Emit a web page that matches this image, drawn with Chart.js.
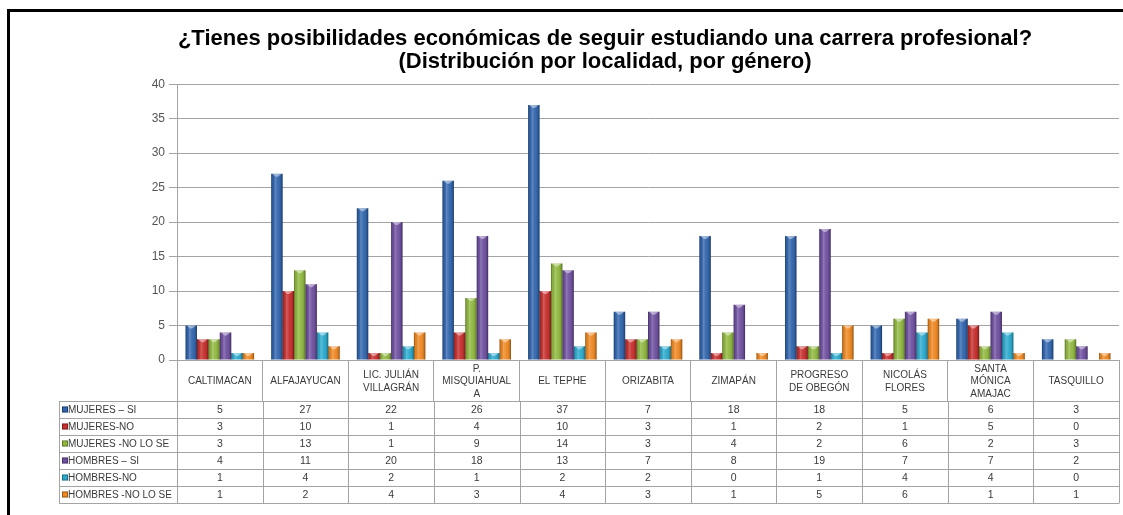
<!DOCTYPE html>
<html lang="es">
<head>
<meta charset="utf-8">
<title>Posibilidades económicas por localidad</title>
<script src="https://cdn.jsdelivr.net/npm/chart.js@4"></script>
<style>
  html, body { margin: 0; padding: 0; background: #fff; }
  #chart { display: block; }
</style>
</head>
<body>
<canvas id="chart" width="1123" height="515"></canvas>
<script>
// localidades (one entry per column, split into the lines shown in the header)
const localidades = [
  ["CALTIMACAN"],
  ["ALFAJAYUCAN"],
  ["LIC. JULIÁN", "VILLAGRÁN"],
  ["P.", "MISQUIAHUAL", "A"],
  ["EL TEPHE"],
  ["ORIZABITA"],
  ["ZIMAPÁN"],
  ["PROGRESO", "DE OBEGÓN"],
  ["NICOLÁS", "FLORES"],
  ["SANTA", "MÓNICA", "AMAJAC"],
  ["TASQUILLO"],
];

const seriesNames = [
  "MUJERES – SI",
  "MUJERES-NO",
  "MUJERES -NO LO SE",
  "HOMBRES – SI",
  "HOMBRES-NO",
  "HOMBRES -NO LO SE",
];

const mujeresSi = [5, 27, 22, 26, 37, 7, 18, 18, 5, 6, 3];
const mujeresNo = [3, 10, 1, 4, 10, 3, 1, 2, 1, 5, 0];
const mujeresNoLoSe = [3, 13, 1, 9, 14, 3, 4, 2, 6, 2, 3];
const hombresSi = [4, 11, 20, 18, 13, 7, 8, 19, 7, 7, 2];
const hombresNo = [1, 4, 2, 1, 2, 2, 0, 1, 4, 4, 0];
const hombresNoLoSe = [1, 2, 4, 3, 4, 3, 1, 5, 6, 1, 1];

const yTicks = [0, 5, 10, 15, 20, 25, 30, 35, 40];

const seriesValues = [mujeresSi, mujeresNo, mujeresNoLoSe, hombresSi, hombresNo, hombresNoLoSe];
const seriesColors = ["#3165ad", "#c62f2d", "#90b840", "#6f50a0", "#2caacd", "#ee8822"];

const FONT = "'Liberation Sans', Arial, sans-serif";
const GRID = "#a4a4a4";
const HEADER_HEIGHT = 41;
const ROW_HEIGHT = 17;
const TABLE_LEFT = 59;

// black frame along the top and left edge
const frame = {
  id: "frame",
  afterDraw(chart) {
    const { ctx, width, height } = chart;
    ctx.save();
    ctx.fillStyle = "#000";
    ctx.fillRect(7, 9, width - 7, 3);
    ctx.fillRect(7, 9, 3, height - 9);
    ctx.restore();
  },
};

// cylinder-like shading on top of the flat bars
const barShading = {
  id: "barShading",
  afterDatasetsDraw(chart) {
    const { ctx } = chart;
    ctx.save();
    chart.data.datasets.forEach((ds, di) => {
      chart.getDatasetMeta(di).data.forEach((bar) => {
        const { x, y, base, width } = bar.getProps(["x", "y", "base", "width"], true);
        const h = base - y;
        if (h < 0.5) return;
        const left = x - width / 2;
        const g = ctx.createLinearGradient(left, 0, left + width, 0);
        g.addColorStop(0, "rgba(0,0,0,0.38)");
        g.addColorStop(0.14, "rgba(0,0,0,0.05)");
        g.addColorStop(0.35, "rgba(255,255,255,0.22)");
        g.addColorStop(0.6, "rgba(255,255,255,0.04)");
        g.addColorStop(0.86, "rgba(0,0,0,0.12)");
        g.addColorStop(1, "rgba(0,0,0,0.42)");
        ctx.fillStyle = g;
        ctx.fillRect(left, y, width, h);

        // light bevel on the top edge
        const cap = Math.min(3, h);
        ctx.fillStyle = "rgba(255,255,255,0.45)";
        ctx.beginPath();
        ctx.moveTo(left + 1, y);
        ctx.lineTo(left + width - 1, y);
        ctx.lineTo(x + 1, y + cap);
        ctx.lineTo(x - 1, y + cap);
        ctx.closePath();
        ctx.fill();
      });
    });
    ctx.restore();
  },
};

// data table under the axis: legend keys, series names and values
const dataTable = {
  id: "dataTable",
  afterDraw(chart) {
    const { ctx, chartArea } = chart;
    const x = chart.scales.x;
    const top = chartArea.bottom + HEADER_HEIGHT;
    const bottom = top + ROW_HEIGHT * seriesNames.length;
    const colW = x.width / localidades.length;

    ctx.save();
    ctx.strokeStyle = GRID;
    ctx.lineWidth = 1;
    ctx.beginPath();
    for (let r = 0; r <= seriesNames.length; r++) {
      const yy = Math.round(top + r * ROW_HEIGHT) + 0.5;
      ctx.moveTo(TABLE_LEFT, yy);
      ctx.lineTo(chartArea.right, yy);
    }
    ctx.moveTo(TABLE_LEFT + 0.5, top);
    ctx.lineTo(TABLE_LEFT + 0.5, bottom + 0.5);
    for (let c = 0; c <= localidades.length; c++) {
      const xx = Math.round(x.left + c * colW) + 0.5;
      ctx.moveTo(xx, top);
      ctx.lineTo(xx, bottom + 0.5);
    }
    ctx.stroke();

    ctx.textBaseline = "middle";
    seriesNames.forEach((name, r) => {
      const mid = top + r * ROW_HEIGHT + ROW_HEIGHT / 2 + 1;

      ctx.fillStyle = seriesColors[r];
      ctx.fillRect(TABLE_LEFT + 3, mid - 4, 6, 6);
      ctx.strokeStyle = "rgba(0,0,0,0.35)";
      ctx.strokeRect(TABLE_LEFT + 3.5, mid - 3.5, 5, 5);

      ctx.fillStyle = "#3a3a3a";
      ctx.textAlign = "left";
      ctx.font = `10px ${FONT}`;
      ctx.fillText(name, TABLE_LEFT + 9, mid);

      ctx.textAlign = "center";
      ctx.font = `10.5px ${FONT}`;
      seriesValues[r].forEach((v, i) => {
        ctx.fillText(String(v), x.getPixelForValue(i), mid);
      });
    });
    ctx.restore();
  },
};

new Chart(document.getElementById("chart"), {
  type: "bar",
  data: {
    labels: localidades,
    datasets: seriesNames.map((name, i) => ({
      label: name,
      data: seriesValues[i],
      backgroundColor: seriesColors[i],
      borderWidth: 0,
      barPercentage: 1,
      categoryPercentage: 0.8,
    })),
  },
  options: {
    responsive: false,
    animation: false,
    layout: {
      padding: { left: 91, right: 4, top: 0, bottom: 0 },
    },
    scales: {
      x: {
        grid: {
          drawOnChartArea: false,
          drawTicks: true,
          tickLength: HEADER_HEIGHT,
          color: GRID,
        },
        border: { color: GRID },
        ticks: {
          autoSkip: false,
          maxRotation: 0,
          crossAlign: "center",
          padding: -32,
          color: "#3a3a3a",
          font: { family: FONT, size: 10, lineHeight: 1.25 },
        },
        afterFit(scale) {
          scale.height = 155;
        },
      },
      y: {
        min: 0,
        max: 40,
        afterBuildTicks(scale) {
          scale.ticks = yTicks.map((v) => ({ value: v }));
        },
        grid: {
          color: GRID,
          tickLength: 8,
        },
        border: { color: GRID },
        ticks: {
          padding: 4,
          color: "#555",
          font: { family: FONT, size: 12 },
        },
        afterFit(scale) {
          scale.width = 86;
        },
      },
    },
    plugins: {
      legend: { display: false },
      tooltip: { enabled: false },
      title: {
        display: true,
        text: [
          "¿Tienes posibilidades económicas de seguir estudiando una carrera profesional?",
          "(Distribución por localidad, por género)",
        ],
        color: "#000",
        font: { family: FONT, size: 22, weight: "bold", lineHeight: 1.05 },
        padding: { top: 27, bottom: 11 },
      },
    },
  },
  plugins: [barShading, dataTable, frame],
});
</script>
</body>
</html>
